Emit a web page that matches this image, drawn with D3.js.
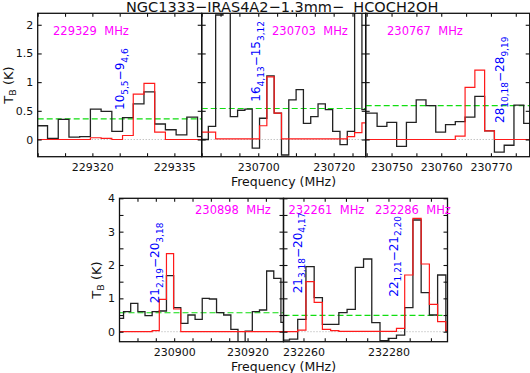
<!DOCTYPE html>
<html>
<head>
<meta charset="utf-8">
<script src="https://cdn.jsdelivr.net/npm/d3@7"></script>
<style>
body{margin:0;background:#fff;}
svg{display:block;}
</style>
</head>
<body>
<script>
// ---- data ----
var title = "NGC1333\u2212IRAS4A2\u22121.3mm\u2212\u00a0 HCOCH2OH";
var freqRanges = [[229310, 229340], [230685, 230728.5], [230744.8, 230777.8], [230885.1, 230929.8], [232255.3, 232293.9]];
var chanStart = [229309.84, 230684.82, 230743.16, 230884.25, 232254.77];
var chanWidth = [1.96, 1.94, 1.967, 1.95, 1.937];

var obs1 = [0.24, 0.02, 0.35, 0.04, 0.05, 0.53, 0.49, 0.14, 0.38, 0.62, 0.83, 0.27, 0.17, 0.08, 0.39, 0.05];
var mod1 = [0.0, 0.0, 0.0, 0.0, 0.0, 0.03, 0.02, 0.0, 0.07, 0.79, 0.98, 0.13, 0.0, 0.0, 0.0, 0.0];
var obs2 = [0.0, 0.23, 2.17, 3.0, 0.40, 0.51, 0.53, -0.15, 0.37, 1.11, 0.46, -0.27, 0.69, 0.87, 0.28, 0.40, 0.62, 0.52, 0.14, -0.09, 0.14, 3.0, 0.52];
var mod2 = [0.13, 0.13, 0.01, 0.01, 0.01, 0.01, 0.01, 0.01, 0.24, 1.09, 0.46, 0.01, 0.01, 0.01, 0.01, 0.01, 0.01, 0.01, 0.01, 0.01, 0.05, 0.12, 0.29];
var obs3 = [0.46, 0.46, 0.23, 0.30, -0.12, 0.30, 0.69, 0.59, 0.13, 0.26, 0.31, 0.39, 0.75, 0.15, -0.22, -0.10, 0.60, 0.28];
var mod3 = [0.0, 0.0, 0.0, 0.0, 0.0, 0.0, 0.0, 0.0, 0.0, 0.0, 0.06, 0.91, 1.21, 0.15, 0.0, 0.0, 0.0, 0.0];
var obs4 = [0.40, 0.60, 0.85, 0.60, 0.48, 0.60, 0.62, 1.68, 0.72, 0.25, 0.50, 0.37, 1.00, 0.98, 0.57, 0.50, 0.07, -0.6, 0.02, 0.60, 0.65, 1.82, 1.60, 0.28];
var mod4 = [0.0, 0.0, 0.0, 0.0, 0.0, 0.03, 0.97, 2.34, 0.68, 0.0, 0.0, 0.0, 0.0, 0.0, 0.0, 0.0, 0.0, 0.0, 0.0, 0.0, 0.0, 0.0, 0.0, 0.0];
var obs5 = [-0.25, -0.22, 0.37, 1.95, 1.02, 0.22, 0.22, 0.57, 0.67, 1.93, 2.18, 0.27, -0.27, -0.2, -0.1, 0.72, 3.35, 1.17, 0.5, 1.7, 0.02];
var mod5 = [0.0, 0.0, 0.05, 1.5, 0.88, 0.07, 0.03, 0.01, 0.01, 0.01, 0.01, 0.01, 0.01, 0.01, 0.1, 1.7, 3.4, 2.03, 0.82, 0.3, 0.03];

var rmsLevel = [0.36, 0.54, 0.59, 0.57, 0.49];
var xTickLabels = [[229320, 229335], [230700, 230720], [230750, 230760, 230770], [230900, 230920], [232260, 232280]];
var yDomains = [[-0.3, 2.2], [-0.3, 4]];
var yTickLabels = [[0, 0.5, 1, 1.5, 2], [0, 1, 2, 3, 4]];

var lineFreqLabels = ["229329 MHz", "230703 MHz", "230767 MHz", "230898 MHz", "232261 MHz", "232286 MHz"];
// transitions: [J, subscript, J', subscript']
var transitions = [["10", "5,5", "9", "4,6"], ["16", "4,13", "15", "3,12"], ["28", "10,18", "28", "9,19"],
                   ["21", "2,19", "20", "3,18"], ["21", "3,18", "20", "4,17"], ["22", "1,21", "21", "2,20"]];

var obsData = [obs1, obs2, obs3, obs4, obs5];
var modData = [mod1, mod2, mod3, mod4, mod5];

// ---- layout ----
var W = 164;
var rows = [{top: 13.3, bottom: 156.7}, {top: 198.3, bottom: 341.7}];
var panelLeft = [37.7, 201.7, 365.7, 119.5, 283.5];
var panelRow = [0, 0, 0, 1, 1];
var freqLabelPos = [[53, 35], [272, 35], [387, 35], [195, 214], [288.5, 214], [375, 214]];
var transPos = [[124, 110], [260, 101.7], [504, 123], [159, 303.3], [301.7, 293.3], [397.5, 296.7]];

var svg = d3.select("body").append("svg")
	.attr("width", 530)
	.attr("height", 373)
	.style("font-family", "'DejaVu Sans', sans-serif");

function steps(f0, df, vals){
	var pts = vals.map(function(v, i){ return [f0 + i * df, v]; });
	pts.push([f0 + vals.length * df, vals[vals.length - 1]]);
	return pts;
}

for (var i = 0; i < 5; i++){
	var row = rows[panelRow[i]];
	var x0 = panelLeft[i];
	var x = d3.scaleLinear().domain(freqRanges[i]).range([x0, x0 + W]);
	var y = d3.scaleLinear().domain(yDomains[panelRow[i]]).range([row.bottom, row.top]);

	var g = svg.append("g");
	g.append("clipPath").attr("id", "clip" + i)
		.append("rect")
		.attr("x", x0).attr("y", row.top)
		.attr("width", W).attr("height", row.bottom - row.top);

	var plot = g.append("g").attr("clip-path", "url(#clip" + i + ")");

	plot.append("line")
		.attr("x1", x0).attr("x2", x0 + W)
		.attr("y1", y(0)).attr("y2", y(0))
		.attr("stroke", "#aaa").attr("stroke-width", 1)
		.attr("stroke-dasharray", "1,2");

	plot.append("line")
		.attr("x1", x0).attr("x2", x0 + W)
		.attr("y1", y(rmsLevel[i])).attr("y2", y(rmsLevel[i]))
		.attr("stroke", "#11dd11").attr("stroke-width", 1.1)
		.attr("stroke-dasharray", "6,3");

	var line = d3.line()
		.x(function(d){ return x(d[0]); })
		.y(function(d){ return y(d[1]); })
		.curve(d3.curveStepAfter);

	plot.append("path")
		.datum(steps(chanStart[i], chanWidth[i], obsData[i]))
		.attr("d", line)
		.attr("fill", "none").attr("stroke", "#222").attr("stroke-width", 1.3);

	plot.append("path")
		.datum(steps(chanStart[i], chanWidth[i], modData[i]))
		.attr("d", line)
		.attr("fill", "none").attr("stroke", "#ff1a1a").attr("stroke-width", 1.2);

	// axes
	var xt = d3.range(Math.ceil(freqRanges[i][0] / 5) * 5, freqRanges[i][1], 5);
	var labs = xTickLabels[i];
	var bottomAx = d3.axisBottom(x).tickValues(xt).tickSizeInner(-3.5).tickSizeOuter(0).tickPadding(7)
		.tickFormat(function(d){ return labs.indexOf(d) >= 0 ? d : ""; });
	var topAx = d3.axisTop(x).tickValues(xt).tickSizeInner(-3.5).tickSizeOuter(0).tickFormat("");

	var yd = yDomains[panelRow[i]];
	var yt = d3.range(0, yd[1] + 0.001, 0.5);
	var ylabs = yTickLabels[panelRow[i]];
	var firstInRow = (i === 0 || i === 3);
	var leftAx = d3.axisLeft(y).tickValues(yt).tickSizeInner(-4).tickSizeOuter(0).tickPadding(4.5)
		.tickFormat(function(d){ return (firstInRow && ylabs.indexOf(d) >= 0) ? String(d) : ""; });
	var rightAx = d3.axisRight(y).tickValues(yt).tickSizeInner(-4).tickSizeOuter(0).tickFormat("");

	var axes = [
		g.append("g").attr("transform", "translate(0," + row.bottom + ")").call(bottomAx),
		g.append("g").attr("transform", "translate(0," + row.top + ")").call(topAx),
		g.append("g").attr("transform", "translate(" + x0 + ",0)").call(leftAx),
		g.append("g").attr("transform", "translate(" + (x0 + W) + ",0)").call(rightAx)
	];
	axes.forEach(function(a){
		a.attr("font-family", "'DejaVu Sans', sans-serif").attr("font-size", 11);
		a.select(".domain").remove();
		a.selectAll(".tick line").attr("stroke", "#111").attr("stroke-width", 1.1);
		a.selectAll(".tick text").attr("fill", "#111");
	});

	g.append("rect")
		.attr("x", x0).attr("y", row.top)
		.attr("width", W).attr("height", row.bottom - row.top)
		.attr("fill", "none").attr("stroke", "#111").attr("stroke-width", 1.3);
}

// frequency labels (magenta)
svg.selectAll("text.freq")
	.data(lineFreqLabels)
	.enter()
	.append("text")
	.attr("class", "freq")
	.attr("x", function(d, k){ return freqLabelPos[k][0]; })
	.attr("y", function(d, k){ return freqLabelPos[k][1]; })
	.attr("font-size", 11.5)
	.attr("fill", "#ff00ff")
	.text(function(d){ return d.replace(" ", "\u00a0\u00a0"); });

// transition labels (blue, vertical)
var tr = svg.selectAll("text.trans")
	.data(transitions)
	.enter()
	.append("text")
	.attr("class", "trans")
	.attr("transform", function(d, k){ return "translate(" + transPos[k][0] + "," + transPos[k][1] + ") rotate(-90)"; })
	.attr("font-size", 12)
	.attr("fill", "#0000ff");
tr.append("tspan").text(function(d){ return d[0]; });
tr.append("tspan").attr("dy", 3.5).attr("font-size", 9).text(function(d){ return d[1]; });
tr.append("tspan").attr("dy", -3.5).text("\u2212");
tr.append("tspan").text(function(d){ return d[2]; });
tr.append("tspan").attr("dy", 3.5).attr("font-size", 9).text(function(d){ return d[3]; });

// title and axis titles
svg.append("text")
	.attr("x", 126).attr("y", 11.5)
	.attr("font-size", 14.5).attr("fill", "#111")
	.text(title);

[185.5, 371].forEach(function(yy){
	svg.append("text")
		.attr("x", 283.5).attr("y", yy)
		.attr("text-anchor", "middle")
		.attr("font-size", 12.5).attr("fill", "#111")
		.text("Frequency (MHz)");
});

[[12.7, 85], [101, 280]].forEach(function(p){
	var t = svg.append("text")
		.attr("transform", "translate(" + p[0] + "," + p[1] + ") rotate(-90)")
		.attr("text-anchor", "middle")
		.attr("font-size", 13).attr("fill", "#111");
	t.append("tspan").text("T");
	t.append("tspan").attr("dy", 3).attr("font-size", 9.5).text("B");
	t.append("tspan").attr("dy", -3).text(" (K)");
});
</script>
</body>
</html>
